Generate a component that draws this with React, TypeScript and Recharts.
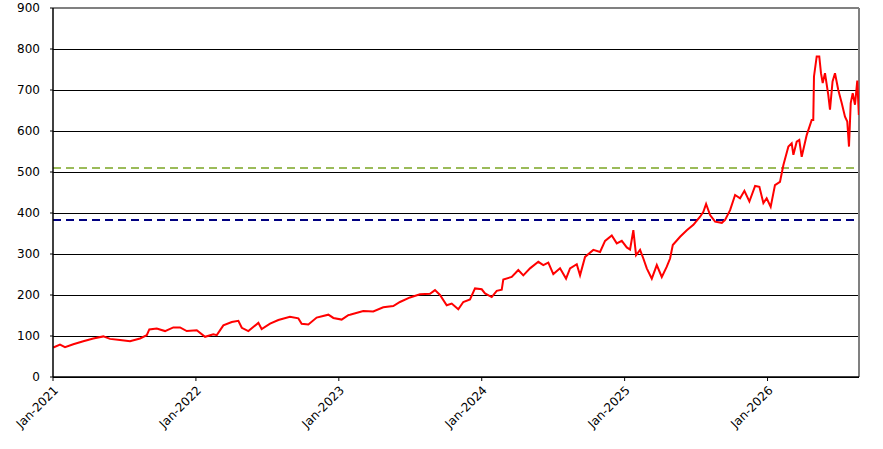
import {
    LineChart,
    Line,
    XAxis,
    YAxis,
    CartesianGrid,
    ReferenceLine
} from 'recharts';

// x positions as fractional years
const years = [
    2021.002, 2021.049, 2021.084, 2021.142, 2021.212, 2021.282, 2021.352, 2021.399, 2021.469, 2021.539,
    2021.609, 2021.656, 2021.674, 2021.726, 2021.784, 2021.842, 2021.889, 2021.936, 2022.006, 2022.064,
    2022.122, 2022.146, 2022.192, 2022.251, 2022.297, 2022.321, 2022.367, 2022.437, 2022.460, 2022.519,
    2022.577, 2022.658, 2022.717, 2022.740, 2022.787, 2022.845, 2022.927, 2022.962, 2023.020, 2023.066,
    2023.078, 2023.171, 2023.241, 2023.311, 2023.381, 2023.428, 2023.498, 2023.568, 2023.638, 2023.673,
    2023.708, 2023.755, 2023.790, 2023.836, 2023.871, 2023.918, 2023.953, 2024.000, 2024.023, 2024.070,
    2024.105, 2024.140, 2024.151, 2024.210, 2024.256, 2024.291, 2024.338, 2024.396, 2024.431, 2024.466,
    2024.501, 2024.548, 2024.590, 2024.618, 2024.665, 2024.688, 2024.723, 2024.781, 2024.828, 2024.863,
    2024.910, 2024.945, 2024.980, 2025.015, 2025.038, 2025.061, 2025.080, 2025.108, 2025.131, 2025.155,
    2025.190, 2025.225, 2025.260, 2025.295, 2025.318, 2025.337, 2025.388, 2025.435, 2025.481, 2025.528,
    2025.551, 2025.570, 2025.598, 2025.633, 2025.680, 2025.703, 2025.738, 2025.773, 2025.808, 2025.838,
    2025.873, 2025.913, 2025.943, 2025.971, 2025.994, 2026.022, 2026.052, 2026.087, 2026.111, 2026.146,
    2026.169, 2026.181, 2026.204, 2026.222, 2026.239, 2026.274, 2026.309, 2026.320, 2026.325, 2026.344,
    2026.362, 2026.374, 2026.386, 2026.402, 2026.425, 2026.437, 2026.455, 2026.472, 2026.495, 2026.519,
    2026.542, 2026.558, 2026.570, 2026.582, 2026.596, 2026.612, 2026.628, 2026.639
];

const prices = [
    72, 79, 73, 80, 87, 94, 99, 93, 90, 87,
    94, 102, 116, 118, 112, 121, 121, 112, 114, 98,
    104, 102, 126, 134, 137, 120, 112, 132, 117, 130,
    139, 147, 143, 130, 128, 145, 152, 144, 140, 151,
    152, 161, 160, 170, 173, 183, 194, 202, 203, 212,
    200, 175, 179, 165, 183, 189, 216, 214, 204, 195,
    210, 213, 238, 244, 261, 248, 265, 281, 273, 279,
    251, 265, 240, 265, 275, 248, 293, 310, 305, 332,
    345, 326, 332, 316, 311, 358, 297, 310, 289, 265,
    240, 273, 244, 269, 289, 322, 342, 358, 371, 391,
    403, 422, 395, 379, 376, 383, 407, 444, 436, 454,
    428, 466, 464, 424, 436, 415, 468, 476, 517, 562,
    570, 542, 574, 578, 537, 590, 627, 627, 733, 782,
    782, 741, 717, 741, 688, 652, 721, 741, 700, 668,
    635, 623, 562, 668, 692, 664, 723, 639
];

const yearTicks = [2021, 2022, 2023, 2024, 2025, 2026];
const valueTicks = [0, 100, 200, 300, 400, 500, 600, 700, 800, 900];
const xEnd = 2026.64;
const upperLevel = 510;
const lowerLevel = 383;

const data = years.map((t, i) => ({ t, price: prices[i] }));

const tickStyle = { fontFamily: '"DejaVu Sans", sans-serif', fontSize: 12, fill: '#000' };

export default function App() {
    return (
        <div style={{ position: 'fixed', left: 0, top: 0, background: '#fff' }}>
            <LineChart width={883} height={449} data={data} margin={{ top: 8, right: 24, bottom: 10, left: 10 }}>
                <CartesianGrid horizontal vertical={false} stroke="#000" strokeWidth={1} shapeRendering="crispEdges" />
                <XAxis
                    dataKey="t"
                    type="number"
                    domain={[2021, xEnd]}
                    ticks={yearTicks}
                    tickFormatter={(t) => `Jan-${t}`}
                    allowDataOverflow
                    height={62}
                    angle={-45}
                    textAnchor="end"
                    tickSize={4}
                    tickMargin={4}
                    tick={tickStyle}
                    axisLine={{ stroke: '#000', strokeWidth: 1.5 }}
                    tickLine={{ stroke: '#000' }}
                />
                <YAxis
                    type="number"
                    domain={[0, 900]}
                    ticks={valueTicks}
                    width={43}
                    tickSize={3}
                    tickMargin={10}
                    tick={tickStyle}
                    axisLine={{ stroke: '#000', strokeWidth: 1.5 }}
                    tickLine={{ stroke: '#000' }}
                />
                <ReferenceLine y={900} stroke="#808080" strokeWidth={2} />
                <ReferenceLine x={xEnd} stroke="#808080" strokeWidth={2} />
                <ReferenceLine y={upperLevel} stroke="#9BBB59" strokeWidth={2} strokeDasharray="8 5" />
                <ReferenceLine y={lowerLevel} stroke="#000080" strokeWidth={2} strokeDasharray="8 5" />
                <Line
                    type="linear"
                    dataKey="price"
                    stroke="#ff0000"
                    strokeWidth={2}
                    dot={false}
                    isAnimationActive={false}
                />
            </LineChart>
        </div>
    );
}
